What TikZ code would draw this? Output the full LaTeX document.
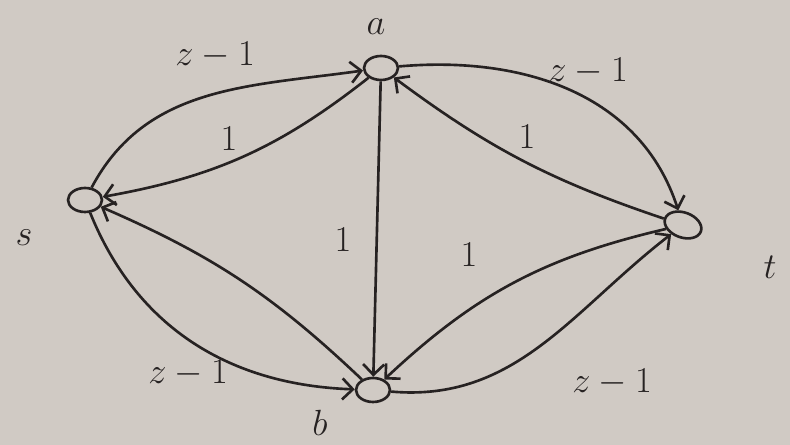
\documentclass[tikz,border=0pt]{standalone}
\usetikzlibrary{arrows.meta,shapes.geometric}
\definecolor{paper}{RGB}{208,202,196}
\definecolor{ink}{RGB}{38,34,34}
\begin{document}
\begin{tikzpicture}[x=0.02cm,y=0.02cm,
  vtx/.style={draw=ink,ellipse,line width=1.5pt,minimum width=0.68cm,minimum height=0.48cm,inner sep=0pt},
  edge/.style={draw=ink,line width=1.5pt,-{Straight Barb[length=6pt,width=12pt,line width=1.5pt]}},
  lab/.style={text=ink,font=\fontsize{22}{26}\selectfont},
  wlab/.style={text=ink,font=\fontsize{20}{24}\selectfont}]
\fill[paper] (0,0) rectangle (790,445);
\useasboundingbox (0,0) rectangle (790,445);
\node[vtx] (a) at (381,377) {};
\node[vtx] (s) at (85,245) {};
\node[vtx] (b) at (373,55) {};
\node[vtx,minimum width=0.76cm,minimum height=0.5cm,rotate=-20] (t) at (683,220) {};
\node[lab] (la) at (376,418) {$a$};
\node[lab] (ls) at (24,207) {$s$};
\node[lab] (lt) at (770,178) {$t$};
\node[lab] (lb) at (320,22) {$b$};
% edges
\draw[edge] (s) to[out=62,in=188] (a);
\draw[edge] (a) to[bend left=14] (s);
\draw[edge] (a) to[out=5,in=110] (t);
\draw[edge] (t) to[bend left=9] (a);
\draw[edge] (a) to (b);
\draw[edge] (b) to[bend right=10] (s);
\draw[edge] (s) to[out=-68,in=178] (b);
\draw[edge] (t) to[bend right=15] (b);
\draw[edge] (b) to[out=-5,in=220] (t);
% labels
\node[wlab] (w1) at (215,390) {$z-1$};
\node[wlab] (w2) at (588,374) {$z-1$};
\node[wlab] (w3) at (188,72) {$z-1$};
\node[wlab] (w4) at (612,63) {$z-1$};
\node[wlab] (o1) at (229,306) {$1$};
\node[wlab] (o2) at (527,308) {$1$};
\node[wlab] (o3) at (343,205) {$1$};
\node[wlab] (o4) at (469,190) {$1$};
\end{tikzpicture}
\end{document}
